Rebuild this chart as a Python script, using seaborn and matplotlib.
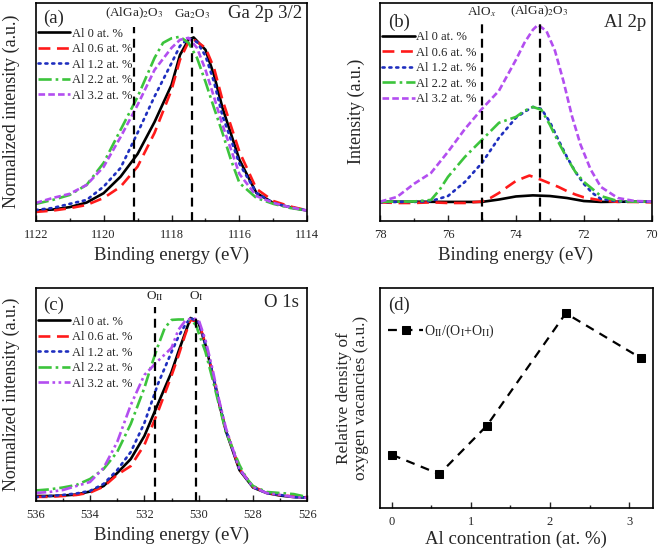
import numpy as np
import pandas as pd
import seaborn as sns
import matplotlib.pyplot as plt
from matplotlib.ticker import MultipleLocator

sns.set_theme(style="ticks")
plt.rcParams['font.family'] = ['Liberation Serif', 'DejaVu Serif']
plt.rcParams['mathtext.fontset'] = 'stix'

labels = ['Al 0 at. %', 'Al 0.6 at. %', 'Al 1.2 at. %', 'Al 2.2 at. %', 'Al 3.2 at. %']
colors = ['black', '#ff1a1a', '#1f2fbf', '#3cc43c', '#b34ef0']

# (a) Ga 2p 3/2 -- normalized intensity
ga_e0 = [1122, 1121.5, 1121, 1120.5, 1120, 1119.5, 1119, 1118.5, 1118, 1117.75, 1117.5, 1117.35,
         1117, 1116.75, 1116.5, 1116, 1115.5, 1115, 1114.5, 1114]
ga_i0 = [0.046, 0.051, 0.062, 0.083, 0.126, 0.202, 0.306, 0.453, 0.623, 0.761, 0.830, 0.841,
         0.784, 0.669, 0.518, 0.279, 0.127, 0.081, 0.061, 0.046]
ga_e06 = [1122, 1121.5, 1121, 1120.5, 1120, 1119.5, 1119, 1118.5, 1118, 1117.75, 1117.5, 1117.38,
          1117, 1116.75, 1116.5, 1116, 1115.5, 1115, 1114.5, 1114]
ga_i06 = [0.040, 0.046, 0.057, 0.072, 0.104, 0.156, 0.248, 0.403, 0.600, 0.739, 0.821, 0.835,
          0.793, 0.701, 0.554, 0.316, 0.146, 0.090, 0.065, 0.047]
ga_e12 = [1122, 1121.5, 1121, 1120.5, 1120, 1119.5, 1119, 1118.5, 1118, 1117.75, 1117.5, 1117.25,
          1117, 1116.75, 1116.5, 1116, 1115.5, 1115, 1114.5, 1114]
ga_i12 = [0.049, 0.058, 0.077, 0.095, 0.156, 0.242, 0.403, 0.570, 0.723, 0.802, 0.837, 0.820,
          0.756, 0.637, 0.481, 0.261, 0.127, 0.081, 0.061, 0.046]
ga_e22 = [1122, 1121.5, 1121, 1120.5, 1120, 1119.5, 1119, 1118.5, 1118.25, 1118, 1117.75, 1117.5,
          1117.25, 1117, 1116.75, 1116.5, 1116.25, 1116, 1115.5, 1115, 1114.5, 1114]
ga_i22 = [0.077, 0.095, 0.118, 0.164, 0.265, 0.417, 0.568, 0.747, 0.816, 0.837, 0.844, 0.816,
          0.747, 0.637, 0.518, 0.403, 0.279, 0.173, 0.104, 0.077, 0.058, 0.046]
ga_e32 = [1122, 1121.5, 1121, 1120.5, 1120, 1119.5, 1119, 1118.5, 1118, 1117.75, 1117.5, 1117.25,
          1117, 1116.75, 1116.5, 1116, 1115.5, 1115, 1114.5, 1114]
ga_i32 = [0.081, 0.104, 0.123, 0.164, 0.247, 0.384, 0.531, 0.692, 0.793, 0.830, 0.839, 0.793,
          0.692, 0.568, 0.440, 0.214, 0.113, 0.081, 0.061, 0.046]

# (b) Al 2p -- intensity
al_e0 = [78, 77, 76, 75, 74.5, 74, 73.5, 73, 72.5, 72, 71.5, 71, 70]
al_i0 = [0.087, 0.087, 0.086, 0.086, 0.097, 0.111, 0.116, 0.113, 0.104, 0.090, 0.086, 0.087, 0.087]
al_e06 = [78, 77.5, 77, 76.5, 76, 75.5, 75, 74.75, 74.5, 74.25, 74, 73.75, 73.6, 73.25, 73,
          72.75, 72.5, 72.25, 72, 71.5, 71, 70.5, 70]
al_i06 = [0.084, 0.081, 0.081, 0.084, 0.081, 0.081, 0.088, 0.104, 0.127, 0.155, 0.182, 0.198, 0.207,
          0.187, 0.171, 0.155, 0.136, 0.120, 0.107, 0.093, 0.086, 0.086, 0.084]
al_e12 = [78, 77.5, 77, 76.5, 76, 75.5, 75, 74.5, 74, 73.75, 73.5, 73.25, 73, 72.75, 72.5, 72.25,
          72, 71.75, 71.5, 71, 70.5, 70]
al_i12 = [0.084, 0.086, 0.086, 0.090, 0.113, 0.178, 0.265, 0.380, 0.472, 0.499, 0.522, 0.513, 0.453,
          0.371, 0.293, 0.224, 0.169, 0.127, 0.100, 0.088, 0.087, 0.087]
al_e22 = [78, 77.5, 77, 76.5, 76.25, 76, 75.5, 75, 74.5, 74, 73.75, 73.5, 73.25, 73, 72.75, 72.5,
          72.25, 72, 71.75, 71.5, 71, 70.5, 70]
al_i22 = [0.087, 0.087, 0.088, 0.095, 0.141, 0.201, 0.293, 0.371, 0.449, 0.476, 0.504, 0.522, 0.509,
          0.440, 0.361, 0.288, 0.224, 0.178, 0.146, 0.113, 0.090, 0.087, 0.087]
al_e32 = [78, 77.5, 77, 76.5, 76, 75.5, 75, 74.5, 74, 73.75, 73.5, 73.35, 73.1, 72.85, 72.6, 72.35,
          72.1, 71.8, 71.5, 71, 70.5, 70]
al_i32 = [0.087, 0.109, 0.169, 0.219, 0.316, 0.421, 0.513, 0.596, 0.738, 0.816, 0.876, 0.899, 0.870,
          0.780, 0.640, 0.480, 0.350, 0.235, 0.155, 0.104, 0.090, 0.088]

# (c) O 1s -- normalized intensity
o_e0 = [536, 535.5, 535, 534.5, 534, 533.5, 533, 532.5, 532, 531.5, 531, 530.75, 530.5, 530.3,
        530, 529.75, 529.5, 529.25, 529, 528.5, 528, 527.5, 527, 526.5, 526]
o_i0 = [0.022, 0.022, 0.024, 0.029, 0.043, 0.069, 0.130, 0.196, 0.304, 0.455, 0.605, 0.699, 0.788,
        0.859, 0.835, 0.732, 0.600, 0.459, 0.328, 0.144, 0.062, 0.036, 0.024, 0.017, 0.015]
o_e06 = o_e0
o_i06 = [0.018, 0.018, 0.022, 0.027, 0.038, 0.066, 0.122, 0.163, 0.262, 0.418, 0.588, 0.680, 0.779,
         0.850, 0.840, 0.737, 0.605, 0.465, 0.333, 0.150, 0.066, 0.038, 0.026, 0.020, 0.016]
o_e12 = o_e0
o_i12 = [0.017, 0.022, 0.027, 0.034, 0.046, 0.079, 0.144, 0.229, 0.365, 0.549, 0.699, 0.770, 0.826,
         0.859, 0.840, 0.737, 0.605, 0.464, 0.332, 0.149, 0.064, 0.036, 0.027, 0.017, 0.015]
o_e22 = [536, 535.5, 535, 534.5, 534, 533.5, 533, 532.5, 532, 531.75, 531.5, 531.25, 531, 530.75,
         530.5, 530.3, 530.1, 530, 529.75, 529.5, 529.25, 529, 528.5, 528.25, 528, 527.5, 527,
         526.5, 526]
o_i22 = [0.048, 0.053, 0.062, 0.074, 0.102, 0.149, 0.229, 0.361, 0.530, 0.633, 0.727, 0.812, 0.850,
         0.852, 0.852, 0.850, 0.826, 0.788, 0.699, 0.577, 0.450, 0.323, 0.168, 0.107, 0.069, 0.041,
         0.036, 0.031, 0.017]
o_e32 = [536, 535.5, 535, 534.5, 534, 533.5, 533, 532.5, 532, 531.75, 531.5, 531, 530.75, 530.5,
         530.25, 530, 529.75, 529.5, 529.25, 529, 528.5, 528, 527.5, 527, 526.5, 526]
o_i32 = [0.036, 0.041, 0.050, 0.069, 0.088, 0.154, 0.276, 0.450, 0.591, 0.624, 0.657, 0.718, 0.803,
         0.845, 0.859, 0.850, 0.755, 0.624, 0.473, 0.342, 0.149, 0.064, 0.036, 0.027, 0.017, 0.013]

# (d) relative density of oxygen vacancies
al_conc = [0, 0.6, 1.2, 2.2, 3.15]
ov_ratio = [0.241, 0.153, 0.373, 0.885, 0.681]

ab_styles = [dict(ls='-'), dict(dashes=(4.5, 2.5)), dict(dashes=(0.8, 1.8), dash_capstyle='round'),
             dict(dashes=(5, 1.5, 1, 1.5)), dict(dashes=(2.5, 1.2))]
c_styles = ab_styles[:4] + [dict(dashes=(4, 1.3, 1, 1.3, 1, 1.3))]

fig = plt.figure(figsize=(6.61, 5.53), dpi=100)
ax_a = fig.add_axes([0.054, 0.601, 0.411, 0.394])
ax_b = fig.add_axes([0.575, 0.601, 0.411, 0.394])
ax_c = fig.add_axes([0.054, 0.0946, 0.411, 0.3846])
ax_d = fig.add_axes([0.575, 0.0819, 0.4125, 0.3973])


def draw_spectra(ax, series, styles):
    for (e, i), lab, col, st in zip(series, labels, colors, styles):
        sns.lineplot(x=e, y=i, ax=ax, color=col, lw=1.9, label=lab, sort=False, **st)


def style_ticks(ax):
    ax.set_yticks([])
    ax.tick_params(axis='x', which='major', direction='in', length=4, width=1, labelsize=9, pad=6)
    ax.tick_params(axis='x', which='minor', direction='in', length=2.5, width=1)
    for s in ax.spines.values():
        s.set_linewidth(1.2)
        s.set_color('black')


def style_axis(ax, xlim, major, minor):
    ax.set_xlim(*xlim)
    ax.set_ylim(0, 1)
    ax.xaxis.set_major_locator(MultipleLocator(major))
    ax.xaxis.set_minor_locator(MultipleLocator(minor))
    style_ticks(ax)
    ax.set_xlabel('Binding energy (eV)', fontsize=13.5, labelpad=4)


def legend(ax, y):
    ax.legend(loc='upper left', bbox_to_anchor=(0.008, y), frameon=False, fontsize=9,
              handlelength=2.6, handletextpad=0.1, labelspacing=0.28, borderpad=0, borderaxespad=0)


# (a)
draw_spectra(ax_a, [(ga_e0, ga_i0), (ga_e06, ga_i06), (ga_e12, ga_i12), (ga_e22, ga_i22), (ga_e32, ga_i32)], ab_styles)
style_axis(ax_a, (1122, 1114), 2, 1)
ax_a.set_ylabel('Normalized intensity (a.u.)', fontsize=13, labelpad=11)
for xv, txt in [(1119.1, '(AlGa)$_2$O$_3$'), (1117.4, 'Ga$_2$O$_3$')]:
    ax_a.axvline(xv, ymax=0.89, color='black', ls=(0, (4, 2.5)), lw=1.6)
    ax_a.text(xv, 0.95, txt, ha='center', va='center', fontsize=9.5, transform=ax_a.get_xaxis_transform())
ax_a.text(0.028, 0.93, '(a)', transform=ax_a.transAxes, fontsize=13.5, va='center')
ax_a.text(0.98, 0.95, 'Ga 2p 3/2', transform=ax_a.transAxes, fontsize=13.5, va='center', ha='right')
legend(ax_a, 0.885)

# (b)
draw_spectra(ax_b, [(al_e0, al_i0), (al_e06, al_i06), (al_e12, al_i12), (al_e22, al_i22), (al_e32, al_i32)], ab_styles)
style_axis(ax_b, (78, 70), 2, 1)
ax_b.set_ylabel('Intensity (a.u.)', fontsize=13, labelpad=11)
for xv, txt in [(75.0, 'AlO$_x$'), (73.3, '(AlGa)$_2$O$_3$')]:
    ax_b.axvline(xv, ymax=0.913, color='black', ls=(0, (4, 2.5)), lw=1.6)
    ax_b.text(xv, 0.96, txt, ha='center', va='center', fontsize=9.5, transform=ax_b.get_xaxis_transform())
ax_b.text(0.028, 0.91, '(b)', transform=ax_b.transAxes, fontsize=13.5, va='center')
ax_b.text(0.98, 0.91, 'Al 2p', transform=ax_b.transAxes, fontsize=13.5, va='center', ha='right')
legend(ax_b, 0.87)

# (c)
draw_spectra(ax_c, [(o_e0, o_i0), (o_e06, o_i06), (o_e12, o_i12), (o_e22, o_i22), (o_e32, o_i32)], c_styles)
style_axis(ax_c, (536, 526), 2, 1)
ax_c.set_ylabel('Normalized intensity (a.u.)', fontsize=13, labelpad=11)
for xv, txt in [(531.6, 'O$_{\\rm II}$'), (530.1, 'O$_{\\rm I}$')]:
    ax_c.axvline(xv, ymax=0.912, color='black', ls=(0, (4, 2.5)), lw=1.6)
    ax_c.text(xv, 0.96, txt, ha='center', va='center', fontsize=9.5, transform=ax_c.get_xaxis_transform())
ax_c.text(0.028, 0.92, '(c)', transform=ax_c.transAxes, fontsize=13.5, va='center')
ax_c.text(0.97, 0.93, 'O 1s', transform=ax_c.transAxes, fontsize=13.5, va='center', ha='right')
legend(ax_c, 0.87)

# (d)
sns.lineplot(x=al_conc, y=ov_ratio, ax=ax_d, color='black', lw=1.6, dashes=(4, 3), marker='s',
             markersize=6, markeredgecolor='black', label='O$_{\\rm II}$/(O$_{\\rm I}$+O$_{\\rm II}$)')
ax_d.set_xlim(-0.15, 3.3)
ax_d.set_ylim(0, 1)
ax_d.xaxis.set_major_locator(MultipleLocator(1))
ax_d.xaxis.set_minor_locator(MultipleLocator(0.5))
style_ticks(ax_d)
ax_d.set_xlabel('Al concentration (at. %)', fontsize=13.5, labelpad=2)
ax_d.set_ylabel('Relative density of\noxygen vacancies (a.u.)', fontsize=12.5, labelpad=8, linespacing=1.05)
ax_d.text(0.028, 0.923, '(d)', transform=ax_d.transAxes, fontsize=13.5, va='center')
ax_d.legend(loc='upper left', bbox_to_anchor=(0.03, 0.84), frameon=False, fontsize=10,
            handlelength=2.5, handletextpad=0.1, borderpad=0, borderaxespad=0)

plt.savefig('out.png', dpi=100)
